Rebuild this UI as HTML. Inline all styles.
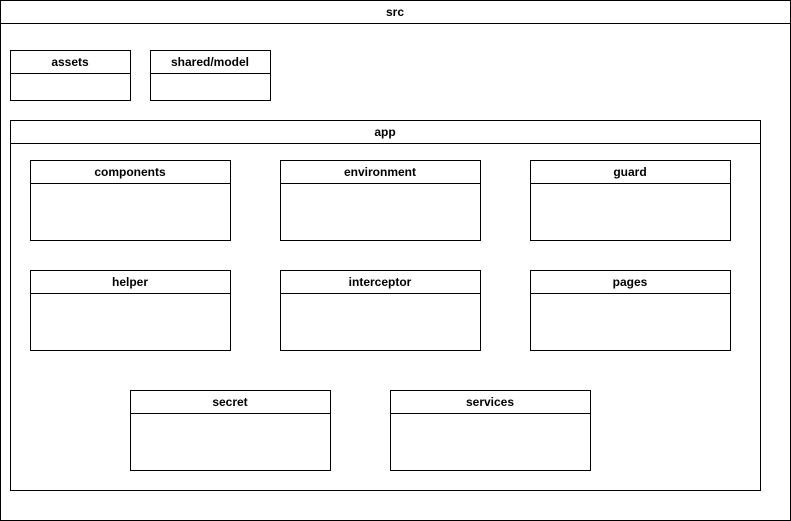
<!DOCTYPE html>
<html><head><meta charset="utf-8"><style>
html,body{margin:0;padding:0;background:#fff;}
svg{display:block;}
text{font-family:"Liberation Sans",Arial,sans-serif;font-weight:bold;font-size:12px;fill:#000;}
</style></head><body>
<svg width="791" height="521" viewBox="0 0 791 521" xmlns="http://www.w3.org/2000/svg">
<g fill="none" stroke="#000" stroke-width="1">
<rect x="0.5" y="0.5" width="790" height="520"/><line x1="0.5" y1="23.5" x2="790.5" y2="23.5"/>
<rect x="10.5" y="50.5" width="120" height="50"/><line x1="10.5" y1="73.5" x2="130.5" y2="73.5"/>
<rect x="150.5" y="50.5" width="120" height="50"/><line x1="150.5" y1="73.5" x2="270.5" y2="73.5"/>
<rect x="10.5" y="120.5" width="750" height="370"/><line x1="10.5" y1="143.5" x2="760.5" y2="143.5"/>
<rect x="30.5" y="160.5" width="200" height="80"/><line x1="30.5" y1="183.5" x2="230.5" y2="183.5"/>
<rect x="280.5" y="160.5" width="200" height="80"/><line x1="280.5" y1="183.5" x2="480.5" y2="183.5"/>
<rect x="530.5" y="160.5" width="200" height="80"/><line x1="530.5" y1="183.5" x2="730.5" y2="183.5"/>
<rect x="30.5" y="270.5" width="200" height="80"/><line x1="30.5" y1="293.5" x2="230.5" y2="293.5"/>
<rect x="280.5" y="270.5" width="200" height="80"/><line x1="280.5" y1="293.5" x2="480.5" y2="293.5"/>
<rect x="530.5" y="270.5" width="200" height="80"/><line x1="530.5" y1="293.5" x2="730.5" y2="293.5"/>
<rect x="130.5" y="390.5" width="200" height="80"/><line x1="130.5" y1="413.5" x2="330.5" y2="413.5"/>
<rect x="390.5" y="390.5" width="200" height="80"/><line x1="390.5" y1="413.5" x2="590.5" y2="413.5"/>
</g>
<g text-anchor="middle">
<text x="395" y="16">src</text>
<text x="70" y="66">assets</text>
<text x="210" y="66">shared/model</text>
<text x="385" y="136">app</text>
<text x="130" y="176">components</text>
<text x="380" y="176">environment</text>
<text x="630" y="176">guard</text>
<text x="130" y="286">helper</text>
<text x="380" y="286">interceptor</text>
<text x="630" y="286">pages</text>
<text x="230" y="406">secret</text>
<text x="490" y="406">services</text>
</g>
</svg>
</body></html>
